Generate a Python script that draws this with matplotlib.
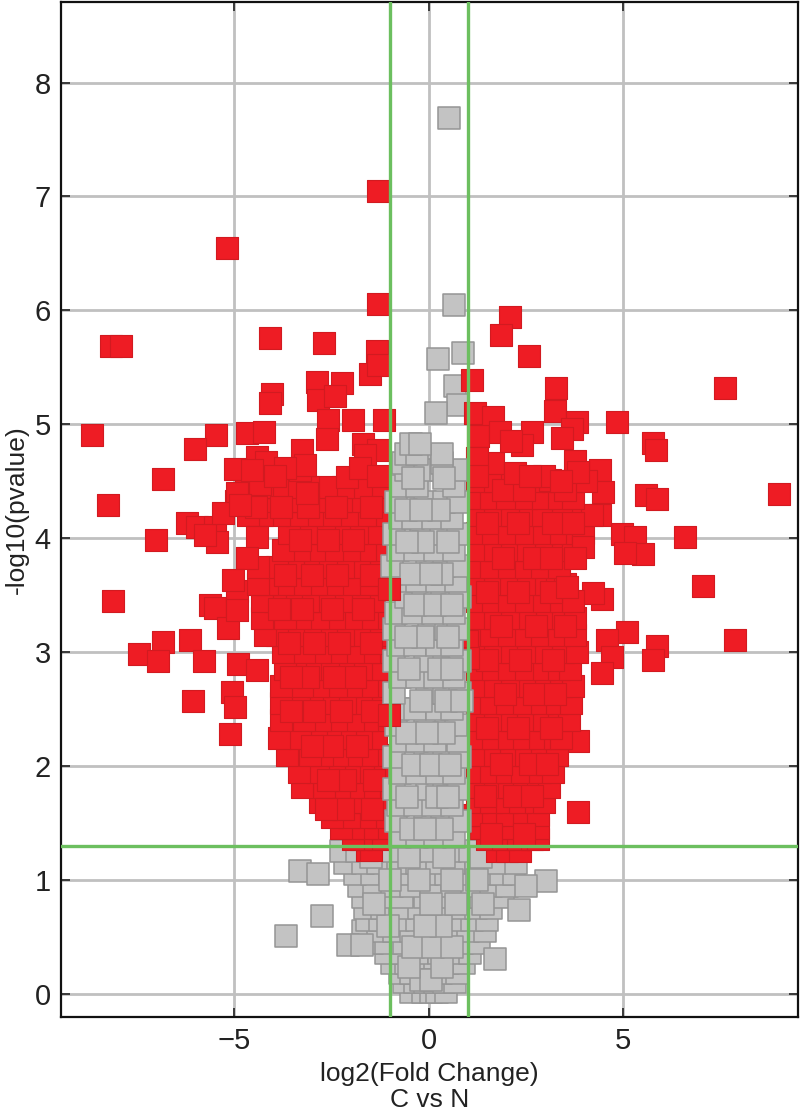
import matplotlib
matplotlib.use("Agg")
import matplotlib.pyplot as plt

plt.rcParams['font.family'] = ['Liberation Sans', 'DejaVu Sans']

X_TICKS = [-5, 0, 5]
Y_TICKS = [0, 1, 2, 3, 4, 5, 6, 7, 8]
FC_CUTOFFS = [-1, 1]
P_CUTOFF = 1.3

red_out_x = [-1.31,-5.19,-1.31,-1.34,-1.52,-1.31,-8.17,-7.92,-4.09,-2.7,-4.04,-4.09,-2.88,-2.85,-2.24,-2.42,
             -8.66,-5.48,-6.02,-6.84,-8.25,-7.02,-6.22,-5.96,-5.5,-5.45,-5.75,-8.12,-5.63,-5.5,-5.17,-4.94,-4.94,
             -6.84,-6.14,-7.45,-6.97,-5.78,-4.91,-4.42,-6.07,-5.06,-4.99,-5.12,
             2.08,1.85,2.57,7.61,3.26,1.1,4.83,5.76,5.84,9.0,5.58,5.86,6.58,7.04,7.87,4.96,5.3,5.5,5.04,4.45,4.22,
             5.09,4.58,4.7,4.45,5.86,5.76,3.83,3.83,4.4,4.47,4.4]
red_out_y = [7.05,6.55,6.06,5.64,5.44,5.52,5.69,5.69,5.76,5.71,5.27,5.19,5.37,5.21,5.36,5.25,
             4.91,4.91,4.78,4.52,4.29,3.98,4.13,4.1,4.1,3.97,4.03,3.45,3.41,3.39,3.21,3.54,3.37,
             3.09,3.11,2.98,2.92,2.92,2.9,2.84,2.57,2.65,2.52,2.28,
             5.94,5.78,5.6,5.32,5.32,5.39,5.02,4.84,4.77,4.39,4.38,4.34,4.01,3.58,3.11,4.04,4.01,3.86,3.87,3.47,3.52,
             3.18,3.11,2.96,2.82,3.05,2.93,1.6,2.22,4.6,4.41,4.2]

red_ltop_x = [-1.16,-1.95,-2.6,-2.62,-4.68,-4.24,-4.42,-4.19,-4.99,-3.32,-1.7,-1.31,-1.65,-2.11,-1.77,-1.31,
              -4.94,-4.34,-3.14,-3.26,-3.19,-3.7,-3.95,-4.55,-5.3,-4.42,-4.68,-5.04,-4.86]
red_ltop_y = [5.04,5.04,5.04,4.87,4.92,4.93,4.71,4.67,4.61,4.6,4.83,4.77,4.73,4.54,4.62,4.55,
              4.4,4.48,4.4,4.77,4.64,4.62,4.55,4.6,4.22,4.01,3.83,3.63,4.29]

red_rtop_x = [3.24,3.8,3.68,3.42,1.18,1.65,2.65,2.39,1.26,1.83,3.75,1.65,2.21,3.83,3.11,2.1,2.95,1.25,1.25,2.6,3.4,
              3.96,3.75,3.55,0.98,1.0]
red_rtop_y = [5.12,5.02,4.96,4.88,5.1,5.06,4.93,4.82,4.9,4.93,4.68,4.66,4.57,4.58,4.51,4.85,4.55,4.7,4.55,4.55,4.5,
              3.92,3.83,3.57,3.1,2.95]

red_over_grey_x = [-1.03,-1.03]
red_over_grey_y = [3.55,2.45]

red_left_levels = [1.26,1.36,1.46,1.55,1.68,1.82,1.95,2.1,2.25,2.4,2.55,2.7,2.85,3.0,3.15,3.3,3.45,3.6,3.75,3.9,4.05,4.2,4.33,4.45]
red_left_rows = [
    [-1.6,-1.5],
    [-1.3,-1.75,-1.95],
    [-1.25,-1.6,-1.95,-2.25],
    [-1.3,-1.65,-2.05,-2.5],
    [-1.25,-1.6,-2.0,-2.4,-2.8],
    [-1.2,-1.55,-1.95,-2.3,-2.7,-3.25],
    [-1.3,-1.7,-2.05,-2.45,-2.85,-3.35],
    [-1.2,-1.6,-2.0,-2.35,-2.75,-3.05,-3.65],
    [-1.35,-1.75,-2.15,-2.55,-2.9,-3.3,-3.85],
    [-1.2,-1.6,-1.95,-2.4,-2.8,-3.2,-3.8],
    [-1.35,-1.75,-2.15,-2.6,-3.0,-3.35,-3.8],
    [-1.2,-1.6,-2.0,-2.4,-2.85,-3.25,-3.8],
    [-1.3,-1.75,-2.2,-2.6,-3.05,-3.45,-3.7],
    [-1.2,-1.55,-1.95,-2.4,-2.8,-3.2,-3.75],
    [-1.35,-1.8,-2.2,-2.65,-3.05,-3.5,-3.9,-4.2],
    [-1.25,-1.6,-2.0,-2.45,-2.85,-3.3,-3.7,-4.3],
    [-1.4,-1.8,-2.25,-2.7,-3.1,-3.55,-3.95,-4.3],
    [-1.2,-1.6,-2.05,-2.5,-2.9,-3.3,-3.75,-4.15,-4.4],
    [-1.35,-1.8,-2.2,-2.65,-3.1,-3.5,-3.9,-4.4],
    [-1.25,-1.65,-2.05,-2.5,-2.95,-3.35,-3.75],
    [-1.4,-1.85,-2.3,-2.7,-3.15,-3.6],
    [-1.25,-1.65,-2.1,-2.55,-3.0,-3.4,-3.85,-4.3,-4.65],
    [-1.35,-1.8,-2.25,-2.7,-3.2,-3.65,-4.1,-4.55,-4.95],
    [-1.3,-1.75,-2.2,-2.65,-3.1,-3.5,-3.9,-4.3,-4.7],
]

red_left_off_levels = [1.62,1.88,2.18,2.48,2.78,3.08,3.38,3.68,3.98,4.27]
red_left_off_rows = [
    [-1.45,-2.2,-2.65],
    [-1.4,-2.15,-2.6],
    [-1.85,-2.5,-3.0],
    [-1.45,-2.25,-2.95,-3.55],
    [-1.9,-2.45,-3.1,-3.55],
    [-1.5,-2.3,-2.95,-3.6],
    [-1.7,-2.5,-3.25,-3.85],
    [-1.5,-2.35,-3.0,-3.7],
    [-1.95,-2.6,-3.3],
    [-1.5,-2.4,-3.1,-3.8,-4.45],
]

red_right_levels = [1.25,1.36,1.46,1.57,1.68,1.82,1.95,2.1,2.25,2.4,2.55,2.7,2.85,3.0,3.15,3.3,3.45,3.6,3.75,3.9,4.05,4.2,4.35,4.5]
red_right_rows = [
    [1.75,2.0,2.35],
    [1.5,1.9,2.3,2.65,2.8],
    [1.35,1.7,2.1,2.5,2.8],
    [0.95,1.3,1.65,2.0,2.45,2.8],
    [1.25,1.6,2.0,2.35,2.75,2.95],
    [1.3,1.7,2.05,2.45,2.8,3.1],
    [1.25,1.6,2.0,2.4,2.85,3.2],
    [1.3,1.7,2.1,2.5,2.9,3.3],
    [1.25,1.65,2.05,2.45,2.85,3.25,3.4],
    [1.3,1.7,2.15,2.55,2.95,3.35,3.6],
    [1.25,1.6,2.0,2.45,2.9,3.3,3.66],
    [1.3,1.7,2.15,2.6,3.0,3.4,3.7],
    [1.25,1.65,2.05,2.5,2.95,3.35,3.63],
    [1.3,1.7,2.15,2.55,3.0,3.45,3.8],
    [1.25,1.6,2.05,2.5,2.9,3.35,3.75],
    [1.3,1.7,2.15,2.6,3.05,3.45,3.75],
    [1.25,1.65,2.05,2.5,2.95,3.4,3.7],
    [1.3,1.7,2.1,2.55,3.0,3.3,3.5],
    [1.25,1.6,2.05,2.5,2.9,3.35],
    [1.3,1.7,2.15,2.55,3.0,3.45,3.7],
    [1.25,1.65,2.05,2.5,2.95,3.4,3.8,3.95],
    [1.3,1.7,2.15,2.6,2.93,3.44,3.96,4.2],
    [1.25,1.6,2.0,2.5,2.93,3.35,3.7],
    [1.3,1.7,2.15,2.7,3.2,3.65,4.05],
]

red_right_off_levels = [1.4,1.74,2.02,2.33,2.63,2.93,3.23,3.53,3.83,4.13,4.42]
red_right_off_rows = [
    [1.6,2.45],
    [1.45,2.2,2.65],
    [1.85,2.6,3.05],
    [1.5,2.3,3.15],
    [1.95,2.7,3.25],
    [1.5,2.35,3.2],
    [1.85,2.75,3.5],
    [1.5,2.3,3.15],
    [1.9,2.7,3.15],
    [1.5,2.3,3.2,3.7],
    [1.9,2.45,3.5],
]

grey_low_levels = [0.02,0.1,0.18,0.27,0.36,0.45,0.55,0.65,0.75,0.85,0.95,1.05,1.15,1.25]
grey_low_rows = [
    [-0.45,-0.15,0.05,0.2,0.45],
    [-0.65,-0.35,-0.1,0.15,0.4,0.68],
    [-0.75,-0.45,-0.05,0.3,0.72],
    [-0.95,-0.6,-0.2,0.15,0.5,0.9],
    [-1.1,-0.7,-0.3,0.25,0.7,1.05],
    [-1.45,-1.1,-0.65,-0.2,0.45,0.85,1.3],
    [-1.7,-1.3,-0.9,-0.45,0.05,0.55,1.0,1.45],
    [-1.6,-1.25,-0.8,-0.3,0.2,0.65,1.1,1.5],
    [-1.65,-1.2,-0.75,-0.25,0.35,0.8,1.2,1.6],
    [-1.7,-1.25,-0.7,-0.1,0.4,0.85,1.35,1.9],
    [-1.8,-1.4,-0.95,-0.45,0.05,0.6,1.1,1.6,2.0],
    [-1.9,-1.45,-1.0,-0.55,-0.05,0.45,0.95,1.45,1.85,2.2],
    [-2.15,-1.7,-1.3,-0.8,-0.3,0.2,0.65,1.2,1.7,2.25],
    [-2.25,-1.85,-1.45,-0.95,-0.45,0.05,0.55,1.05,1.55,2.05],
]

grey_low_off_levels = [0.12,0.24,0.41,0.6,0.79,1.0,1.2]
grey_low_off_rows = [
    [-0.2,0.05],
    [-0.5,0.35],
    [-0.4,0.1,0.6],
    [-1.05,0.3,-0.1],
    [-1.4,0.05,0.7,1.4],
    [-1.0,-0.25,0.6,1.25],
    [-1.5,-0.5,0.4,1.35],
]

grey_mid_levels = [1.38,1.52,1.66,1.8,1.94,2.08,2.22,2.36,2.5,2.64,2.78,2.92,3.06,3.2,3.34,3.48,3.62,3.76,3.9,4.04,4.18,4.32,4.46,4.6,4.66,4.74,4.83]
grey_mid_rows = [
    [-0.75,-0.3,0.15,0.65],
    [-0.85,-0.1,0.35,0.8],
    [-0.8,-0.35,0.1,0.6],
    [-0.9,-0.05,0.4,0.75],
    [-0.75,-0.3,0.2,0.65],
    [-0.9,-0.1,0.4,0.8],
    [-0.7,-0.3,0.15,0.75],
    [-0.85,-0.1,0.45,0.7],
    [-0.8,-0.35,0.2,0.6],
    [-0.9,-0.05,0.4,0.8],
    [-0.75,-0.3,0.15,0.65],
    [-0.9,-0.1,0.4,0.8],
    [-0.8,-0.35,0.2,0.6],
    [-0.9,0.0,0.45,0.75],
    [-0.85,-0.4,0.1,0.65],
    [-0.6,-0.15,0.35,0.8],
    [-0.75,-0.3,0.2,0.7],
    [-0.95,-0.05,0.4,0.75],
    [-0.8,-0.35,0.15,0.65],
    [-0.9,-0.2,0.3,0.75],
    [-0.75,-0.4,0.1,0.6],
    [-0.85,-0.1,0.4,0.75],
    [-0.7,-0.3,0.65],
    [-0.6,-0.15,0.3,0.7],
    [-0.67,0.33],
    [-0.6,-0.3,0.33],
    [-0.45,-0.23],
]

grey_mid_off_levels = [1.45,1.73,2.01,2.29,2.57,2.85,3.13,3.41,3.69,3.97,4.25,4.53]
grey_mid_off_rows = [
    [-0.45,0.35,-0.1],
    [-0.55,0.2,0.5],
    [-0.4,0.05,0.55],
    [-0.55,0.4,-0.05],
    [-0.2,0.45,0.85],
    [-0.5,0.25,0.6],
    [-0.15,0.5,-0.6],
    [-0.35,0.15,0.6],
    [-0.45,0.35,0.05],
    [-0.15,-0.55,0.5],
    [-0.6,0.25,-0.2],
    [-0.4,0.4],
]

grey_out_x = [0.51,0.64,0.87,0.23,0.67,0.75,0.18,-3.32,-2.85,-2.75,-3.68,3.01,2.31,1.7,-2.08,-1.72,2.5]
grey_out_y = [7.69,6.05,5.63,5.57,5.34,5.17,5.1,1.08,1.05,0.68,0.51,0.99,0.74,0.31,0.43,0.43,0.95]


def flatten(levels, rows):
    xs, ys = [], []
    for level, row in zip(levels, rows):
        for value in row:
            xs.append(value)
            ys.append(level)
    return xs, ys


fig = plt.figure(figsize=(8.0, 11.11), dpi=100)
ax = fig.add_axes([60.5/800, 1-1017/1111, (798-60.5)/800, (1017-2)/1111])
ax.set_xlim(-9.47, 9.49)
ax.set_ylim(-0.203, 8.707)

ax.set_axisbelow(True)
ax.set_xticks(X_TICKS)
ax.set_yticks(Y_TICKS)
ax.set_xticklabels(['\u22125', '0', '5'])
ax.grid(True, color='#c0c0c0', lw=2.0)
ax.tick_params(direction='in', length=6.5, width=1.2, labelsize=21, pad=7, color='#222222', labelcolor='#222222')
ax.tick_params(top=True, right=True)
for s in ax.spines.values():
    s.set_linewidth(1.6)
    s.set_color('#111111')

GREY = dict(marker='s', s=243, c='#c3c3c3', edgecolors='#959595', linewidths=1.1)
RED = dict(marker='s', s=250, c='#ee1c24', edgecolors='#d21a20', linewidths=0.8)

for levels, rows in [(grey_low_levels, grey_low_rows), (grey_low_off_levels, grey_low_off_rows)]:
    gx, gy = flatten(levels, rows)
    ax.scatter(gx, gy, zorder=3, **GREY)
ax.scatter(grey_out_x, grey_out_y, zorder=3, **GREY)

ax.scatter(red_out_x, red_out_y, zorder=4, **RED)
for levels, rows in [(red_left_levels, red_left_rows), (red_right_levels, red_right_rows),
                     (red_left_off_levels, red_left_off_rows), (red_right_off_levels, red_right_off_rows)]:
    rx, ry = flatten(levels, rows)
    ax.scatter(rx, ry, zorder=4, **RED)
ax.scatter(red_ltop_x, red_ltop_y, zorder=4, **RED)
ax.scatter(red_rtop_x, red_rtop_y, zorder=4, **RED)

for levels, rows in [(grey_mid_levels, grey_mid_rows), (grey_mid_off_levels, grey_mid_off_rows)]:
    gx, gy = flatten(levels, rows)
    ax.scatter(gx, gy, zorder=5, **GREY)
ax.scatter(red_over_grey_x, red_over_grey_y, zorder=5, **RED)

for c in FC_CUTOFFS:
    ax.axvline(c, color='#6cbf5f', lw=2.4, zorder=6)
ax.axhline(P_CUTOFF, color='#6cbf5f', lw=2.4, zorder=6)

ax.set_xlabel('log2(Fold Change)\nC vs N', fontsize=19, color='#222222', labelpad=5, linespacing=1.12)
ax.set_ylabel('-log10(pvalue)', fontsize=19, color='#222222', labelpad=4)

fig.savefig('out.png', dpi=100)
